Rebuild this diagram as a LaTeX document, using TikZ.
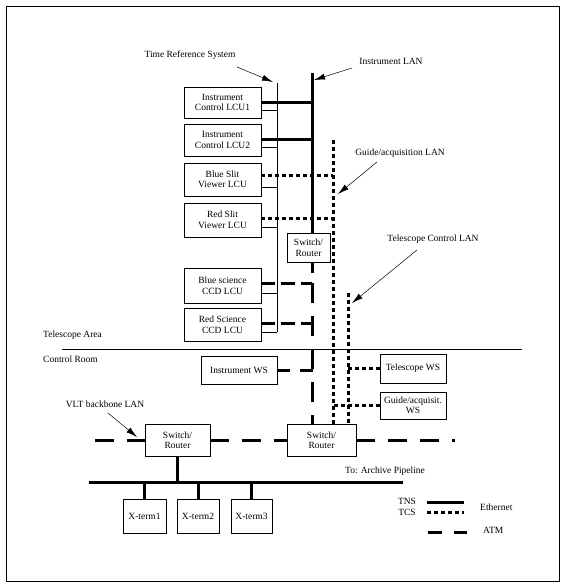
\documentclass[tikz,border=0pt]{standalone}
\usepackage{fontspec}
\setmainfont{Liberation Serif}
\usetikzlibrary{arrows.meta,calc}
\begin{document}
\begin{tikzpicture}[x=1pt,y=-1pt,
  every node/.style={font=\fontsize{9.5}{10.5}\selectfont},
  box/.style={draw, line width=0.8pt, align=center, inner sep=0pt},
  lbl/.style={inner sep=0pt, align=center},
  thinln/.style={line width=0.6pt},
  eth/.style={line width=3pt},
  tcs/.style={line width=3pt, dash pattern=on 4pt off 3pt},
  atm/.style={line width=3pt, dash pattern=on 19pt off 13pt},
  atmshort/.style={line width=3pt, dash pattern=on 14pt off 6pt},
  ptr/.style={line width=0.5pt, -{Latex[length=11pt,width=6pt]}},
]
\useasboundingbox (0,0) rectangle (565,588);
\draw[line width=0.9pt] (6,6) rectangle (559,581);

% ---------- boxes ----------
\node[box, minimum width=77, minimum height=31] (b1) at (222.5,102.5) {Instrument\\Control LCU1};
\node[box, minimum width=77, minimum height=32] (b2) at (222.5,140) {Instrument\\Control LCU2};
\node[box, minimum width=77, minimum height=33] (b3) at (222.5,179.5) {Blue Slit\\Viewer LCU};
\node[box, minimum width=77, minimum height=34] (b4) at (222.5,220) {Red Slit\\Viewer LCU};
\node[box, minimum width=77, minimum height=35] (b5) at (222.5,285.5) {Blue science\\CCD LCU};
\node[box, minimum width=77, minimum height=33] (b6) at (222.5,324.5) {Red Science\\CCD LCU};
\node[box, minimum width=43, minimum height=29] (r1) at (308.5,247.5) {Switch/\\Router};
\node[box, minimum width=76, minimum height=28] (iws) at (239,370) {Instrument WS};
\node[box, minimum width=66, minimum height=29] (tws) at (413,368.5) {Telescope WS};
\node[box, minimum width=66, minimum height=27] (gws) at (413,405.5) {Guide/acquisit.\\WS};
\node[box, minimum width=65, minimum height=32] (r2) at (177.5,440) {Switch/\\Router};
\node[box, minimum width=69, minimum height=32] (r3) at (321.5,440) {Switch/\\Router};
\node[box, minimum width=43, minimum height=34] (x1) at (144.5,516) {X-term1};
\node[box, minimum width=42, minimum height=34] (x2) at (198,516) {X-term2};
\node[box, minimum width=41, minimum height=34] (x3) at (251.5,516) {X-term3};

% ---------- coordinates ----------
\coordinate (ilan) at (312,73);
\coordinate (trs) at (277,83);
\coordinate (glan) at (333,140);
\coordinate (tlan) at (348,293);
\coordinate (atmtop) at (312,273);
\coordinate (atmstart) at (312,283);
\coordinate (bbL) at (95,440);
\coordinate (bbR) at (455,440);
\coordinate (busL) at (89,482);
\coordinate (busR) at (403,482);
\coordinate (dvL) at (62,349);
\coordinate (dvR) at (522,349);
\foreach \b in {b1,b2,b3,b4,b5,b6}
  \coordinate (t\b) at ($(\b.east)+(0,7.5)$);
\coordinate (g3) at ($(b3.east)+(0,-4)$);
\coordinate (g4) at ($(b4.east)+(0,-2)$);
\coordinate (a5) at ($(b5.east)+(0,-2)$);
\coordinate (a6) at ($(b6.east)+(0,-1.5)$);

% ---------- time reference (thin) ----------
\draw[thinln] (trs) -- (trs |- tb6);
\foreach \b in {b1,b2,b3,b4,b5,b6}
  \draw[thinln] (t\b) -- (t\b -| trs);

% ---------- instrument LAN (ethernet) ----------
\draw[eth] (ilan) -- (ilan |- r1.north);
\draw[eth] (b1.east) -- (b1.east -| ilan);
\draw[eth] (b2.east) -- (b2.east -| ilan);
\draw[eth] (r1.south -| ilan) -- (atmtop);

% ---------- ATM ----------
\draw[atm, dash pattern=on 20pt off 13pt] (atmstart) -- (r3.north -| ilan);
\draw[atmshort] (a5) -- (a5 -| ilan);
\draw[atmshort] (a6) -- (a6 -| ilan);
\draw[atm, dash pattern=on 13pt off 10pt] (iws.east) -- ($(iws.east -| ilan)+(1.5,0)$);
\draw[atm] (bbL) -- (r2.west);
\draw[atm] (r2.east) -- (r3.west);
\draw[atm] (r3.east) -- (bbR);

% ---------- TCS dotted ----------
\draw[tcs] (glan) -- (glan |- r3.north);
\draw[tcs] (g3) -- (g3 -| glan);
\draw[tcs] (g4) -- (g4 -| glan);
\draw[tcs] (tlan) -- (tlan |- r3.north);
\draw[tcs] (tws.west) -- (tws.west -| tlan);
\draw[tcs] (gws.west) -- (gws.west -| glan);

% ---------- ethernet bus ----------
\draw[eth] (busL) -- (busR);
\draw[eth] (r2.south) -- (r2.south |- busL);
\foreach \x in {x1,x2,x3}
  \draw[eth] (\x.north) -- (\x.north |- busL);

% ---------- divider ----------
\draw[thinln] (dvL) -- (dvR);
\node[lbl, anchor=west] (ta) at (43,335) {Telescope Area};
\node[lbl, anchor=west] (cr) at (43,359) {Control Room};

% ---------- labels with pointers ----------
\node[lbl] (ltrs) at (190,55) {Time Reference System};
\coordinate (ptrsA) at (237,67);
\coordinate (ptrsB) at (273,82);
\draw[ptr] (ptrsA) -- (ptrsB);

\node[lbl] (lilan) at (391,61) {Instrument LAN};
\coordinate (pilA) at (352,68);
\coordinate (pilB) at (314,80);
\draw[ptr] (pilA) -- (pilB);

\node[lbl] (lglan) at (400,153) {Guide/acquisition LAN};
\coordinate (pglA) at (377,162);
\coordinate (pglB) at (338,194);
\draw[ptr] (pglA) -- (pglB);

\node[lbl] (ltlan) at (433,239) {Telescope Control LAN};
\coordinate (ptlA) at (417,250);
\coordinate (ptlB) at (352,303);
\draw[ptr] (ptlA) -- (ptlB);

\node[lbl] (lvlt) at (105,404) {VLT backbone LAN};
\coordinate (pvA) at (108,413);
\coordinate (pvB) at (137,437);
\draw[ptr] (pvA) -- (pvB);

\node[lbl] (larch) at (385,471) {To: Archive Pipeline};

% ---------- legend ----------
\node[lbl] (ltns) at (407,501) {TNS};
\node[lbl] (ltcs) at (407,512) {TCS};
\coordinate (lg1a) at (427,502); \coordinate (lg1b) at (464,502);
\coordinate (lg2a) at (427,512); \coordinate (lg2b) at (464,512);
\coordinate (lg3a) at (428,532); \coordinate (lg3b) at (467,532);
\draw[eth] (lg1a) -- (lg1b);
\draw[tcs] (lg2a) -- (lg2b);
\draw[line width=3pt, dash pattern=on 14pt off 12pt] (lg3a) -- (lg3b);
\node[lbl, anchor=west] (leth) at (480,507) {Ethernet};
\node[lbl, anchor=west] (latm) at (483,530) {ATM};
\end{tikzpicture}
\end{document}
